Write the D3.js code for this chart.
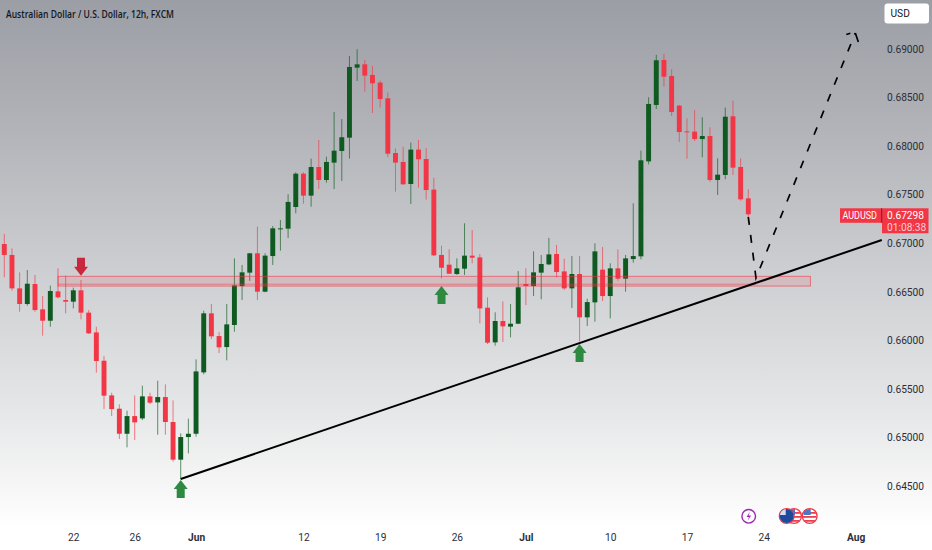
<!DOCTYPE html>
<html>
<head>
<meta charset="utf-8">
<script src="https://d3js.org/d3.v7.min.js"></script>
<style>
html, body { margin: 0; padding: 0; background: #fff; }
svg { display: block; }
text { font-family: Roboto, sans-serif; }
</style>
</head>
<body>
<script>
// 12h candles, one entry per bar
var opens = [.66992,.66879,.66535,.66374,.66580,.66319,.66202,.66504,.66415,.66398,
	.66515,.66285,.66082,.65790,.65433,.65296,.65038,.65220,.65196,.65423,
	.65361,.65416,.65159,.64771,.65004,.65038,.65670,.66278,.66044,.65931,
	.66158,.66559,.66697,.66896,.66501,.66868,.67150,.67150,.67373,.67716,
	.67490,.67785,.67651,.67830,.67950,.68087,.68808,.68842,.68733,.68654,
	.68492,.67929,.67837,.67610,.67964,.67867,.67552,.66879,.66779,.66683,
	.66738,.66872,.66854,.66336,.65979,.66199,.66141,.66171,.66580,.66559,
	.66697,.66782,.66889,.66710,.66535,.66683,.66237,.66391,.66728,.66456,
	.66741,.66635,.66837,.66865,.67843,.68424,.68887,.68722,.68417,.68152,
	.68149,.68073,.68104,.67651,.67703,.68307,.67785,.67462];
var highs = [.67095,.66947,.66700,.66724,.66673,.66456,.66563,.66741,.66666,.66542,
	.66621,.66312,.66140,.65838,.65461,.65341,.65275,.65433,.65533,.65461,
	.65584,.65547,.65382,.65042,.65193,.65804,.66305,.66374,.66086,.66374,
	.66844,.66776,.66900,.67171,.66896,.67177,.67239,.67504,.67730,.67730,
	.67871,.68063,.67891,.68351,.68279,.68928,.68997,.68887,.68825,.68674,
	.68554,.67977,.67994,.68036,.68063,.67981,.67675,.66975,.66937,.66844,
	.67205,.67136,.66889,.66443,.66288,.66401,.66374,.66714,.66741,.66916,
	.66879,.67054,.66982,.66841,.66868,.66868,.66429,.66999,.66961,.66793,
	.66937,.66879,.67411,.67953,.68503,.68939,.68949,.68791,.68424,.68286,
	.68372,.68297,.68194,.67874,.68396,.68468,.67874,.67555];
var lows = [.66649,.66511,.66295,.66357,.66295,.66048,.66140,.66432,.66278,.66329,
	.66216,.66065,.65667,.65292,.65220,.64984,.64898,.64973,.65179,.65344,
	.65028,.65028,.64750,.64568,.64836,.65008,.65650,.66013,.65869,.65794,
	.66089,.66415,.66611,.66415,.66495,.66776,.66923,.67054,.67308,.67407,
	.67376,.67558,.67624,.67558,.67641,.67871,.68671,.68561,.68341,.68396,
	.67885,.67531,.67600,.67404,.67572,.67449,.66868,.66638,.66683,.66673,
	.66673,.66793,.66175,.65962,.65945,.65983,.66031,.66168,.66364,.66456,
	.66422,.66775,.66649,.66518,.66333,.65989,.66147,.66192,.66405,.66226,
	.66614,.66501,.66800,.66834,.67812,.68382,.68612,.68310,.68042,.67871,
	.68053,.67885,.67634,.67497,.67658,.67703,.67438,.67212];
var closes = [.66879,.66535,.66374,.66583,.66312,.66202,.66508,.66443,.66398,.66515,
	.66285,.66072,.65787,.65430,.65292,.65038,.65220,.65155,.65423,.65358,
	.65416,.65159,.64771,.65004,.65038,.65680,.66278,.66041,.65928,.66164,
	.66566,.66700,.66896,.66501,.66872,.67153,.67153,.67425,.67716,.67490,
	.67785,.67651,.67837,.67953,.68091,.68815,.68842,.68726,.68647,.68485,
	.67922,.67830,.67607,.67964,.67864,.67548,.66875,.66748,.66686,.66741,
	.66872,.66851,.66329,.65976,.66199,.66144,.66171,.66546,.66559,.66700,
	.66786,.66885,.66703,.66535,.66683,.66237,.66394,.66916,.66456,.66741,
	.66635,.66844,.66868,.67854,.68434,.68884,.68715,.68351,.68145,.68145,
	.68073,.68104,.67651,.67706,.68303,.67778,.67452,.67298];

var priceTicks = [.69,.685,.68,.675,.67,.665,.66,.655,.65,.645];
var timeTicks = [9,17,25,39,49,59,68,79,89,99,111];
var timeLabels = ["22","26","Jun","12","19","26","Jul","10","17","24","Aug"];
var monthLabels = ["Jun","Jul","Aug"];

// drawings: [bar, price]
var trendLine = [[23,.64572],[114.4,.67033]];
var forecast = [[97,.67270],[98,.66642],[110.95,.69165]];
var zoneBars = [7,105.1];
var zonePrices = [.66659,.66559];
var zoneInner = .66578;
var zoneInnerEnd = 98;
var upArrows = [[23,.64562],[57,.66559],[75,.65962]];
var downArrows = [[10,.66666]];
var lastPrice = .67298;

var width = 932;
var height = 550;
var svg = d3.select("body").append("svg")
	.attr("width", width)
	.attr("height", height);

var x = d3.scaleLinear().domain([0,111]).range([4.3,855.7]);
var y = d3.scaleLinear().domain([.645,.69]).range([486,49]);
var step = x(1) - x(0);
var bodyW = step * 0.64;
var red = "#f23645";
var green = "#0e5a20";

// grey wash that fades out to white toward the time axis
var defs = svg.append("defs");
var grad = defs.append("linearGradient").attr("id","bg")
	.attr("x1",0).attr("y1",0).attr("x2",0).attr("y2",1);
[[0,"#9c9ea6"],[.2,"#aeb0b5"],[.5,"#cdcfd2"],[.75,"#e6e7e8"],[.9,"#f8f8f8"],[.96,"#ffffff"]]
	.forEach(function(s){ grad.append("stop").attr("offset",s[0]).attr("stop-color",s[1]); });
svg.append("rect").attr("width",width).attr("height",height).attr("fill","url(#bg)");

// candles
var bars = d3.range(opens.length);
var candle = svg.append("g").selectAll("g").data(bars).enter().append("g");
candle.append("line")
	.attr("x1",function(i){ return x(i); })
	.attr("x2",function(i){ return x(i); })
	.attr("y1",function(i){ return y(highs[i]); })
	.attr("y2",function(i){ return y(lows[i]); })
	.attr("stroke",function(i){ return closes[i] >= opens[i] ? green : red; })
	.attr("stroke-opacity",.65)
	.attr("stroke-width",1);
candle.append("rect")
	.attr("x",function(i){ return x(i) - bodyW / 2; })
	.attr("width",bodyW)
	.attr("y",function(i){ return y(Math.max(opens[i],closes[i])); })
	.attr("height",function(i){ return Math.max(1,Math.abs(y(opens[i]) - y(closes[i]))); })
	.attr("fill",function(i){ return closes[i] >= opens[i] ? green : red; });

// support zone
svg.append("rect")
	.attr("x",x(zoneBars[0]))
	.attr("width",x(zoneBars[1]) - x(zoneBars[0]))
	.attr("y",y(zonePrices[0]))
	.attr("height",y(zonePrices[1]) - y(zonePrices[0]))
	.attr("fill",red).attr("fill-opacity",.13)
	.attr("stroke",red).attr("stroke-opacity",.6).attr("stroke-width",1);
svg.append("line")
	.attr("x1",x(zoneBars[0])).attr("x2",x(zoneInnerEnd))
	.attr("y1",y(zoneInner)).attr("y2",y(zoneInner))
	.attr("stroke",red).attr("stroke-opacity",.5);

// trend line and forecast path
var line = d3.line()
	.x(function(d){ return x(d[0]); })
	.y(function(d){ return y(d[1]); });
svg.append("path").attr("d",line(trendLine))
	.attr("fill","none").attr("stroke","#000").attr("stroke-width",2);
svg.append("path").attr("d",line(forecast))
	.attr("fill","none").attr("stroke","#000").attr("stroke-width",1.7)
	.attr("stroke-dasharray","8,10");
var tip = forecast[forecast.length - 1];
svg.append("path")
	.attr("d","M-9,1.5L-5,0.3M0,0L3,9")
	.attr("transform","translate(" + x(tip[0]) + "," + y(tip[1]) + ")")
	.attr("fill","none").attr("stroke","#000").attr("stroke-width",1.7);

// signal arrows, tip sits on the price
svg.append("g").selectAll("path").data(upArrows).enter().append("path")
	.attr("d","M0,0L7,9L4,9L4,18L-4,18L-4,9L-7,9Z")
	.attr("transform",function(d){ return "translate(" + x(d[0]) + "," + y(d[1]) + ")"; })
	.attr("fill","#2f8a41");
svg.append("g").selectAll("path").data(downArrows).enter().append("path")
	.attr("d","M0,0L7,-9L4,-9L4,-18L-4,-18L-4,-9L-7,-9Z")
	.attr("transform",function(d){ return "translate(" + x(d[0]) + "," + y(d[1]) + ")"; })
	.attr("fill","#c9283c");

// axes
var yAxis = d3.axisRight(y).tickValues(priceTicks).tickSize(0).tickPadding(0)
	.tickFormat(d3.format(".5f"));
var yG = svg.append("g").attr("transform","translate(887,0)").call(yAxis);
yG.select(".domain").remove();
yG.selectAll("text").attr("font-size","10.2px").attr("fill","#2a2e39").style("font-family","Roboto, sans-serif");

var xAxis = d3.axisBottom(x).tickValues(timeTicks).tickSize(0).tickPadding(0)
	.tickFormat(function(d,i){ return timeLabels[i]; });
var xG = svg.append("g").attr("transform","translate(0,534)").call(xAxis);
xG.select(".domain").remove();
xG.selectAll("text")
	.attr("font-size","10.2px").attr("fill","#2a2e39")
	.style("font-family","Roboto, sans-serif")
	.attr("font-weight",function(d,i){ return monthLabels.indexOf(timeLabels[i]) >= 0 ? "700" : "400"; });

// title
svg.append("text").attr("x",6).attr("y",17.5)
	.attr("font-size","11px").attr("font-weight","600").attr("fill","#131722")
	.attr("textLength",168).attr("lengthAdjust","spacingAndGlyphs")
	.style("font-family","'Open Sans', sans-serif")
	.text("Australian Dollar / U.S. Dollar, 12h, FXCM");

// currency button
svg.append("rect").attr("x",884.5).attr("y",3.5).attr("width",44.5).attr("height",20).attr("rx",3).attr("fill","#fff");
svg.append("text").attr("x",890.5).attr("y",17).attr("font-size","10.2px").attr("fill","#131722").text("USD");

// last price tag
var py = y(lastPrice);
svg.append("rect").attr("x",840).attr("y",py - 6).attr("width",42).attr("height",14.5).attr("fill",red);
svg.append("rect").attr("x",882).attr("y",py - 6).attr("width",46.5).attr("height",25).attr("fill",red);
svg.append("line").attr("x1",881.7).attr("x2",881.7).attr("y1",py - 6).attr("y2",py + 8.5).attr("stroke","#7a1f2a");
svg.append("text").attr("x",842.5).attr("y",py + 5).attr("font-size","10.2px").attr("fill","#fff")
	.attr("textLength",34.5).attr("lengthAdjust","spacingAndGlyphs").text("AUDUSD");
svg.append("text").attr("x",887).attr("y",py + 5).attr("font-size","10.2px").attr("fill","#fff").text(d3.format(".5f")(lastPrice));
svg.append("text").attr("x",887).attr("y",py + 16.5).attr("font-size","10.2px").attr("fill","#fbd0d5").text("01:08:38");

// calendar markers along the bottom
function flag(cx, cy, aus){
	var id = "c" + Math.round(cx);
	defs.append("clipPath").attr("id",id).append("circle").attr("cx",cx).attr("cy",cy).attr("r",7);
	var g = svg.append("g");
	g.append("circle").attr("cx",cx).attr("cy",cy).attr("r",7.4).attr("fill","#fff").attr("stroke",red).attr("stroke-width",1.3);
	var f = g.append("g").attr("clip-path","url(#" + id + ")");
	if (aus) {
		f.append("rect").attr("x",cx - 8).attr("y",cy - 8).attr("width",16).attr("height",16).attr("fill","#1c4a9c");
		f.append("rect").attr("x",cx - 8).attr("y",cy - 8).attr("width",7).attr("height",7).attr("fill","#d8dcef");
	} else {
		[-4,0,4].forEach(function(o){
			f.append("rect").attr("x",cx - 8).attr("y",cy + o).attr("width",16).attr("height",1.8).attr("fill","#e9414f");
		});
		f.append("rect").attr("x",cx - 6).attr("y",cy - 7).attr("width",7).attr("height",6).attr("fill","#4a79c4");
	}
}
flag(794,516,false);
flag(786.7,516,true);
flag(809.7,516,false);
svg.append("circle").attr("cx",748.7).attr("cy",516.3).attr("r",6.8)
	.attr("fill","none").attr("stroke","#9c27b0").attr("stroke-width",1.4);
svg.append("path").attr("d","M749.8,511.8L746.6,517L749,517L747.7,520.8L751,515.6L748.6,515.6Z").attr("fill","#9c27b0");
</script>
</body>
</html>
